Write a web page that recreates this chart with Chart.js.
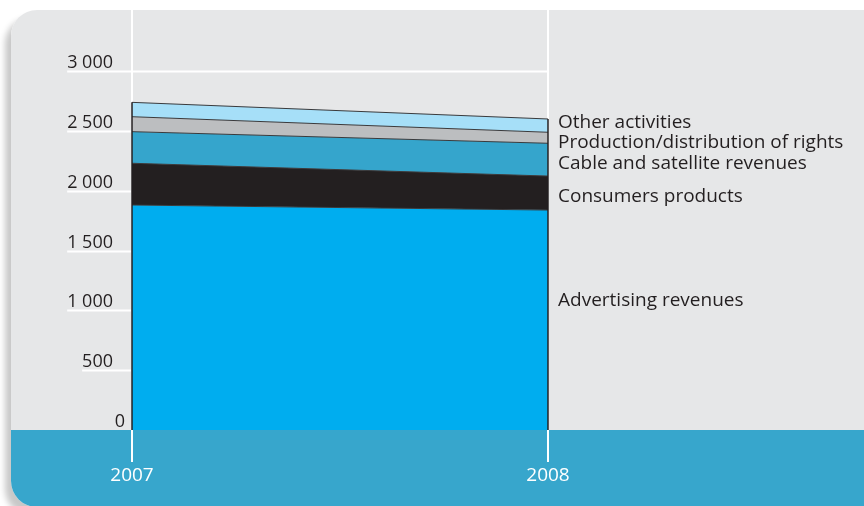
<!DOCTYPE html>
<html>
    <head>
        <meta charset="utf-8">
        <title>Revenue breakdown 2007-2008</title>
        <script src="https://cdn.jsdelivr.net/npm/chart.js@4.4.1/dist/chart.umd.min.js"></script>
        <style>
            body {
                margin: 0;
                background: #fff;
                width: 864px;
                height: 506px;
                overflow: hidden;
                position: relative;
            }
            .panel {
                position: absolute;
                left: 11px;
                top: 10px;
                width: 890px;
                height: 497px;
                border-radius: 26px;
                background: linear-gradient(to bottom, #e6e7e8 0, #e6e7e8 420px, #37a6cc 420px);
                box-shadow: -6px 8px 6px rgba(0,0,0,0.22);
            }
            #chart {
                position: absolute;
                left: 0;
                top: 0;
            }
        </style>
</head>
<body>
<div class="panel"></div>
<canvas id="chart" width="864" height="506"></canvas>
<script>
    // values (millions)
    var years = ['2007', '2008'];
    var advertising = [1880, 1838];
    var consumer = [349, 284];
    var cable = [264, 274];
    var production = [125, 92];
    var other = [120, 111];
    var yTicks = [0, 500, 1000, 1500, 2000, 2500, 3000];

    var seriesNames = ['Advertising revenues', 'Consumers products', 'Cable and satellite revenues',
                       'Production/distribution of rights', 'Other activities'];
    var seriesColors = ['#00adef', '#231f20', '#35a5cc', '#bcbec0', '#a6dff8'];
    // baseline of each legend text on the right
    var labelBaselines = [306, 202, 169, 148, 128];

    var font = '18px "Open Sans", sans-serif';
    var legendFont = '19px "Open Sans", sans-serif';
    var textColor = '#231f20';

    function ds(i, data) {
        return {
            label: seriesNames[i],
            data: data,
            backgroundColor: seriesColors[i],
            borderColor: '#3a3a3c',
            borderWidth: 1,
            pointRadius: 0,
            tension: 0,
            fill: i === 0 ? 'origin' : '-1'
        };
    }

    var decorations = {
        id: 'decorations',
        beforeDatasetsDraw: function(chart) {
            var ctx = chart.ctx, y = chart.scales.y, x = chart.scales.x, area = chart.chartArea;
            ctx.save();
            ctx.strokeStyle = '#ffffff';
            // vertical year lines
            ctx.lineWidth = 2;
            years.forEach(function(lbl, i) {
                var px = Math.round(x.getPixelForValue(i));
                ctx.beginPath();
                ctx.moveTo(px, 10);
                ctx.lineTo(px, 462);
                ctx.stroke();
            });
            // tick labels with underline grid
            ctx.font = font;
            ctx.textAlign = 'right';
            ctx.textBaseline = 'alphabetic';
            ctx.fillStyle = textColor;
            yTicks.forEach(function(v) {
                var py = Math.round(y.getPixelForValue(v));
                var txt = v >= 1000 ? Math.floor(v / 1000) + ' ' + String(v % 1000).padStart(3, '0') : String(v);
                var w = ctx.measureText(txt).width;
                var right = v === 0 ? 125 : 113;
                ctx.fillText(txt, right, py - 3);
                if (v > 0) {
                    ctx.lineWidth = 2;
                    ctx.beginPath();
                    ctx.moveTo(right - w, py + 0.5);
                    ctx.lineTo(area.right, py + 0.5);
                    ctx.stroke();
                }
            });
            ctx.restore();
        },
        afterDatasetsDraw: function(chart) {
            var ctx = chart.ctx, y = chart.scales.y, x = chart.scales.x;
            ctx.save();
            // dark side edges of the stacked area
            ctx.strokeStyle = '#231f20';
            ctx.lineWidth = 1.5;
            years.forEach(function(lbl, i) {
                var total = advertising[i] + consumer[i] + cable[i] + production[i] + other[i];
                var px = x.getPixelForValue(i);
                ctx.beginPath();
                ctx.moveTo(px, y.getPixelForValue(0));
                ctx.lineTo(px, y.getPixelForValue(total));
                ctx.stroke();
            });
            // year labels
            ctx.font = '19px "Open Sans", sans-serif';
            ctx.fillStyle = '#ffffff';
            ctx.textAlign = 'center';
            ctx.textBaseline = 'alphabetic';
            years.forEach(function(lbl, i) {
                ctx.fillText(lbl, x.getPixelForValue(i), 481);
            });
            // series names at the right
            ctx.font = legendFont;
            ctx.fillStyle = textColor;
            ctx.textAlign = 'left';
            seriesNames.forEach(function(name, i) {
                ctx.fillText(name, chart.chartArea.right + 10, labelBaselines[i]);
            });
            ctx.restore();
        }
    };

    var chart = new Chart(document.getElementById('chart'), {
        type: 'line',
        data: {
            labels: years,
            datasets: [ds(0, advertising), ds(1, consumer), ds(2, cable), ds(3, production), ds(4, other)]
        },
        options: {
            responsive: false,
            animation: false,
            layout: { padding: { left: 132, right: 316, top: 71, bottom: 76 } },
            plugins: { legend: { display: false }, tooltip: { enabled: false } },
            scales: {
                x: { display: false, offset: false },
                y: { display: false, stacked: true, min: 0, max: 3000 }
            }
        },
        plugins: [decorations]
    });
</script>
</body>
</html>
